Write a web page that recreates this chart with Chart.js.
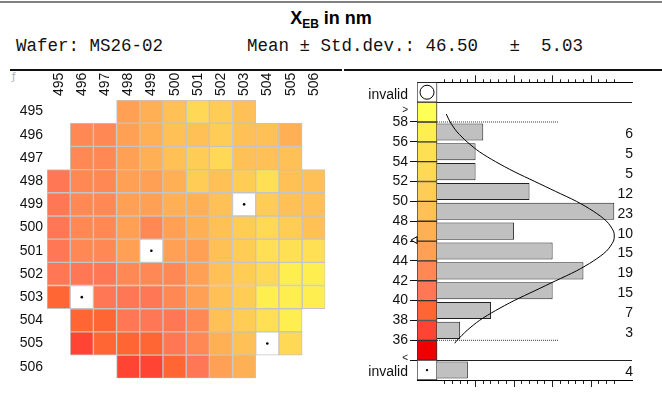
<!DOCTYPE html>
<html><head><meta charset="utf-8">
<script src="https://cdn.jsdelivr.net/npm/chart.js@4.4.0/dist/chart.umd.min.js"></script>
<style>
html,body{margin:0;padding:0;background:#fff;}
body{width:662px;height:402px;position:relative;overflow:hidden;font-family:"Liberation Sans",Arial,sans-serif;}
#topline{position:absolute;left:0;top:1px;width:662px;height:2px;background:#808080;}
#title{position:absolute;left:0;width:662px;top:7px;line-height:22px;text-align:center;font-weight:bold;font-size:18px;color:#000;}
#title sub{font-size:12px;vertical-align:baseline;position:relative;top:4px;}
.mono{position:absolute;top:36px;line-height:20px;font-family:"Liberation Mono","Courier New",monospace;font-size:17.5px;white-space:pre;color:#111;}
.sep{position:absolute;top:69px;height:2px;background:#111;}
#glyph{position:absolute;left:12px;top:71px;font-size:10px;color:#aaa;font-family:"DejaVu Sans";}
canvas{position:absolute;}
</style></head>
<body>
<div id="topline"></div>
<div id="title">X<sub>EB</sub> in nm</div>
<div class="mono" id="infoline" style="left:16px"></div>
<div class="sep" style="left:10px;width:332px"></div>
<div class="sep" style="left:344px;width:318px"></div>
<div id="glyph">ƒ</div>
<canvas id="wafer" width="340" height="332" style="left:0;top:70px"></canvas>
<canvas id="hist" width="322" height="332" style="left:340px;top:70px"></canvas>
<script>
// ---------------- data ----------------
const waferName = 'MS26-02';
const meanValue = 46.50;
const stdDev = 5.03;

const rowLabels = ['495','496','497','498','499','500','501','502','503','504','505','506'];
const colLabels = [495,496,497,498,499,500,501,502,503,504,505,506];
const INV = 'inv'; // invalid die
// die values per row (rows 495..506), columns 495..506; null = no die
const dieValues = [
  [null,null,null,45,47,49,53,51,49,null,null,null],
  [null,43,43,45,47,49,49,51,49,49,47,null],
  [null,43,43,45,47,49,51,53,49,49,49,null],
  [41,43,43,45,45,47,51,49,51,55,49,49],
  [41,43,43,45,45,47,47,49,INV,51,49,49],
  [41,43,43,45,43,45,47,49,51,53,51,49],
  [41,43,43,45,INV,45,45,49,51,55,55,55],
  [41,41,41,43,43,43,45,49,51,53,57,57],
  [39,INV,41,41,41,43,45,49,51,57,57,57],
  [null,39,39,41,41,41,43,49,51,55,57,null],
  [null,37,39,39,39,41,43,47,49,INV,53,null],
  [null,null,null,37,37,39,41,45,47,null,null,null]
];

// histogram
const binLower = [36,38,40,42,44,46,48,50,52,54,56];
const binCounts = [3,7,15,19,15,10,23,12,5,5,6];
const invalidCount = 4;
const colorBinCenters = [35,37,39,41,43,45,47,49,51,53,55,57,59]; // '<', bins, '>'
const invalidRowLow = 33, invalidRowHigh = 61;
const yTickValues = [36,38,40,42,44,46,48,50,52,54,56,58];
const xTickValues = [1,2,3,4,5,6,7,8,9,10,11,12,13,14,15,16,17,18,19,20,21,22,23];
// normal curve (count, value)
const curveY = [58.8,58,57,56,55,54,53,52,51,50,49,48,47,46.5,46,45,44,43,42,41,40,39,38,37,36,35.7];
const curveX = [1.2,1.7,2.6,3.9,5.5,7.6,10.0,12.7,15.4,18.1,20.3,22.0,22.9,23.0,22.9,22.0,20.3,18.1,15.4,12.7,10.0,7.6,5.5,3.9,2.6,2.3];
const limitValues = [36,58];
const limitExtent = 15.7;
const meanMarkerY = 46.1;

// ---------------- styles ----------------
const palette = ['#ee0000','#ff4433','#ff6633','#ff7755','#ff8855','#ffa055','#ffb055','#ffc055','#ffcc55','#ffd855','#ffe055','#ffee50','#ffff55'];
function colorFor(v){
  if (v === INV) return '#ffffff';
  if (v < 36) return palette[0];
  if (v >= 58) return palette[12];
  return palette[1 + Math.floor((v - 36) / 2)];
}
const FONT = 'Liberation Sans';
Chart.defaults.font.family = FONT;
Chart.defaults.font.size = 14;
Chart.defaults.color = '#111';

document.getElementById('infoline').textContent =
  'Wafer: ' + waferName + '        Mean \u00b1 Std.dev.: ' + meanValue.toFixed(2) + '   \u00b1  ' + stdDev.toFixed(2);

// ---------------- wafer map ----------------
const waferDatasets = colLabels.map((col, j) => ({
  type: 'bar',
  xAxisID: 'x', yAxisID: 'y',
  order: 1,
  grouped: false,
  barPercentage: 1, categoryPercentage: 1,
  data: rowLabels.map((r, i) => dieValues[i][j] === null ? null : [col - 0.5, col + 0.5]),
  backgroundColor: rowLabels.map((r, i) => dieValues[i][j] === null ? 'rgba(0,0,0,0)' : colorFor(dieValues[i][j])),
  borderColor: '#c4c4c4',
  borderWidth: 1,
  borderSkipped: false
}));
const invalidDies = [];
dieValues.forEach((row, i) => row.forEach((v, j) => { if (v === INV) invalidDies.push({x: colLabels[j], y: rowLabels[i]}); }));
waferDatasets.push({
  type: 'scatter', xAxisID: 'x', yAxisID: 'y', order: 0,
  data: invalidDies,
  pointRadius: 1.3, pointBackgroundColor: '#000', pointBorderWidth: 0
});

new Chart(document.getElementById('wafer'), {
  type: 'bar',
  data: { labels: rowLabels, datasets: waferDatasets },
  options: {
    responsive: false, animation: false, devicePixelRatio: 1, indexAxis: 'y',
    layout: { padding: { left: 0, top: 0, right: 14.7, bottom: 23.7 } },
    plugins: { legend: { display: false }, tooltip: { enabled: false } },
    scales: {
      x: {
        type: 'linear', position: 'top', min: 494.5, max: 506.5,
        afterBuildTicks: s => { s.ticks = colLabels.map(v => ({ value: v })); },
        afterFit: s => { s.height = 30; },
        grid: { display: false, drawTicks: false }, border: { display: false },
        ticks: { autoSkip: false, minRotation: 90, maxRotation: 90, padding: 4, labelOffset: 17, color: '#111', callback: v => String(v) }
      },
      y: {
        type: 'category', labels: rowLabels, position: 'left',
        afterFit: s => { s.width = 47; },
        grid: { display: false, drawTicks: false }, border: { display: false },
        ticks: { autoSkip: false, padding: 4, color: '#111' }
      }
    }
  }
});

// ---------------- histogram ----------------
const X_MIN = -2.6, X_MAX = 25.3;
const colorbarData = colorBinCenters.map(c => ({ y: c, x: [X_MIN, 0] }))
  .concat([{ y: invalidRowLow, x: [X_MIN, 0] }, { y: invalidRowHigh, x: [X_MIN, 0] }]);
const colorbarColors = palette.concat(['#ffffff', '#ffffff']);
const histData = binLower.map((b, i) => ({ y: b + 1, x: binCounts[i] })).concat([{ y: invalidRowLow, x: invalidCount }]);
const curveData = curveY.map((y, i) => ({ x: curveX[i], y: y }));
const countByY = {};
binLower.forEach((b, i) => { countByY[b + 1] = binCounts[i]; });
countByY[invalidRowLow] = invalidCount;

const LBL_INV_LOW = 32.75, LBL_INV_HIGH = 60.75, LBL_LT = 34.15, LBL_GT = 59.2;
const labelTicks = [LBL_INV_LOW, 34, LBL_LT].concat(yTickValues, [LBL_GT, 60, LBL_INV_HIGH]);
function histLabel(v){
  if (v === LBL_INV_LOW || v === LBL_INV_HIGH) return 'invalid';
  if (v === LBL_LT) return '<';
  if (v === LBL_GT) return '>';
  if (v === 34 || v === 60) return '';
  return String(v);
}

const histDatasets = [
  { type: 'scatter', order: 0, xAxisID: 'x', yAxisID: 'yb', clip: false,
    data: [{ x: -2.85, y: meanMarkerY }],
    pointStyle: 'triangle', pointRotation: -90, pointRadius: 4,
    pointBackgroundColor: '#fff', pointBorderColor: '#000', pointBorderWidth: 1 },
  { type: 'scatter', order: 0, xAxisID: 'x', yAxisID: 'yb',
    data: [{ x: X_MIN / 2, y: invalidRowHigh }],
    pointRadius: 7, pointBackgroundColor: '#fff', pointBorderColor: '#000', pointBorderWidth: 1 },
  { type: 'scatter', order: 0, xAxisID: 'x', yAxisID: 'yb',
    data: [{ x: X_MIN / 2, y: invalidRowLow }],
    pointRadius: 1.2, pointBackgroundColor: '#000', pointBorderWidth: 0 },
  { type: 'line', order: 1, xAxisID: 'x', yAxisID: 'yb',
    data: curveData, borderColor: '#000', borderWidth: 1, pointRadius: 0, tension: 0.3, fill: false },
  ...limitValues.map(v => ({ type: 'line', order: 2, xAxisID: 'x', yAxisID: 'yb',
    data: [{ x: 0, y: v }, { x: limitExtent, y: v }], borderColor: '#333', borderWidth: 1,
    borderDash: [1, 1], pointRadius: 0, fill: false })),
  { type: 'bar', order: 3, xAxisID: 'x', yAxisID: 'yb', grouped: false,
    barPercentage: 0.86, categoryPercentage: 1,
    data: histData, backgroundColor: '#c0c0c0', borderColor: '#222', borderWidth: 1 },
  { type: 'bar', order: 4, xAxisID: 'x', yAxisID: 'yb', grouped: false,
    barPercentage: 1, categoryPercentage: 1,
    data: colorbarData, backgroundColor: colorbarColors, borderColor: '#333', borderWidth: 1, borderSkipped: false }
];

const xAxisCommon = {
  type: 'linear', min: X_MIN, max: X_MAX, offset: false,
  afterBuildTicks: s => { s.ticks = xTickValues.map(v => ({ value: v })); },
  ticks: { display: false, autoSkip: false },
  border: { display: true, color: '#000', width: 1 }
};

new Chart(document.getElementById('hist'), {
  type: 'bar',
  data: { datasets: histDatasets },
  options: {
    responsive: false, animation: false, devicePixelRatio: 1, indexAxis: 'y',
    layout: { padding: 0 },
    plugins: { legend: { display: false }, tooltip: { enabled: false } },
    scales: {
      x: Object.assign({}, xAxisCommon, {
        position: 'top',
        afterFit: s => { s.height = 12.3; },
        grid: { offset: false, drawOnChartArea: false, drawTicks: true, tickLength: 7, tickColor: '#222',
          tickBorderDash: c => (c.tick && c.tick.value % 5 === 0) ? [] : [0, 4, 3, 100] }
      }),
      xb: Object.assign({}, xAxisCommon, {
        position: 'bottom',
        afterFit: s => { s.height = 22; },
        grid: { offset: false, drawOnChartArea: false, drawTicks: true, tickLength: 7, tickColor: '#222',
          tickBorderDash: c => (c.tick && c.tick.value % 5 === 0) ? [] : [3, 100] }
      }),
      yb: {
        type: 'linear', display: false, min: 32, max: 62, offset: false, grid: { offset: false },
        afterBuildTicks: s => { const t = []; for (let v = 32; v <= 62; v += 2) t.push({ value: v }); s.ticks = t; }
      },
      y: {
        type: 'linear', position: 'left', min: 32, max: 62, offset: false,
        afterBuildTicks: s => { s.ticks = labelTicks.map(v => ({ value: v })); },
        afterFit: s => { s.width = 77; },
        border: { display: false },
        grid: {
          offset: false, drawOnChartArea: true, drawTicks: true, tickLength: 7,
          color: c => (c.tick && (c.tick.value === 34 || c.tick.value === 60)) ? '#222' : 'rgba(0,0,0,0)',
          tickColor: c => (c.tick && (c.tick.value === 34 || yTickValues.includes(c.tick.value))) ? '#111' : 'rgba(0,0,0,0)'
        },
        ticks: {
          autoSkip: false, padding: 2, color: '#111',
          font: c => ({ family: FONT, size: (c.tick && (c.tick.value === LBL_LT || c.tick.value === LBL_GT)) ? 10 : 14 }),
          callback: v => histLabel(v)
        }
      },
      yr: {
        type: 'linear', position: 'right', min: 32, max: 62, offset: false,
        afterBuildTicks: s => { s.ticks = Object.keys(countByY).map(k => ({ value: Number(k) })); },
        afterFit: s => { s.width = 30; },
        border: { display: false },
        grid: { display: false, drawTicks: false, offset: false },
        ticks: { autoSkip: false, mirror: true, padding: 1, labelOffset: 2.5, color: '#111',
          callback: v => String(countByY[v]) }
      }
    }
  }
});
</script>
</body></html>
